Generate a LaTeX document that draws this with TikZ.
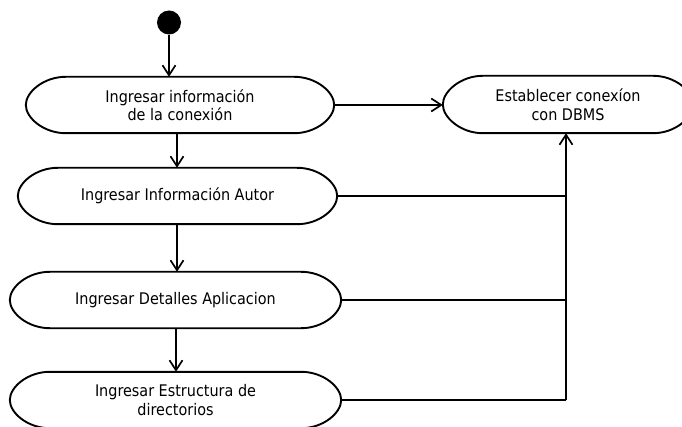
\documentclass[tikz,border=0pt]{standalone}
\usepackage{fontspec}
\setmainfont{DejaVu Sans Condensed}
\usetikzlibrary{arrows.meta}
\newcommand\actshape[1]{%
  \draw[line] ([xshift=40pt]#1.north west) -- ([xshift=-40pt]#1.north east)
    .. controls ([xshift=-18pt]#1.north east) and ([yshift=13pt]#1.east) .. (#1.east)
    .. controls ([yshift=-13pt]#1.east) and ([xshift=-18pt]#1.south east) .. ([xshift=-40pt]#1.south east)
    -- ([xshift=40pt]#1.south west)
    .. controls ([xshift=18pt]#1.south west) and ([yshift=-13pt]#1.west) .. (#1.west)
    .. controls ([yshift=13pt]#1.west) and ([xshift=18pt]#1.north west) .. cycle;}
\begin{document}
\begin{tikzpicture}[x=1pt,y=-1pt,
  line/.style={line width=1.9pt, line join=round},
  flow/.style={line, -{Straight Barb[length=10pt,width=13pt,line width=1.7pt]}},
  act/.style={rectangle, inner sep=0pt, align=center, minimum height=56pt,
    font=\fontsize{16}{18.5}\selectfont},
]
\fill[white] (0,0) rectangle (682,427);
\useasboundingbox (0,0) rectangle (682,427);

\node[circle, fill=black, inner sep=0pt, minimum size=24pt] (start) at (169,22.5) {};
\node[act, minimum width=308pt] (e1) at (180,105) {Ingresar información\\de la conexión};
\node[act, minimum width=250pt, minimum height=57pt] (e2) at (568,104.5) {Establecer conexíon\\con DBMS};
\node[act, minimum width=319pt] (e3) at (177.5,196) {Ingresar Información Autor};
\node[act, minimum width=331pt] (e4) at (175.5,300) {Ingresar Detalles Aplicacion};
\node[act, minimum width=331pt] (e5) at (175.5,400) {Ingresar Estructura de\\directorios};
\foreach \n in {e1,e2,e3,e4,e5} {\actshape{\n}}

\coordinate (bus) at (566,400);

\draw[flow] (start) -- (start |- e1.north);
\draw[flow] ([xshift=-3pt]e1.south) -- ([xshift=-3pt]e1.south |- e3.north);
\draw[flow] ([xshift=-0.5pt]e3.south) -- ([xshift=-0.5pt]e3.south |- e4.north);
\draw[flow] ([xshift=0.5pt]e4.south) -- ([xshift=0.5pt]e5.north);
\draw[flow] (e1.east) -- (e2.west |- e1.east);
\draw[line] (e3.east) -- (e3.east -| bus);
\draw[line] (e4.east) -- (e4.east -| bus);
\draw[line] (e5.east) -- (bus);
\draw[flow] (bus) -- (bus |- e2.south);
\end{tikzpicture}
\end{document}
